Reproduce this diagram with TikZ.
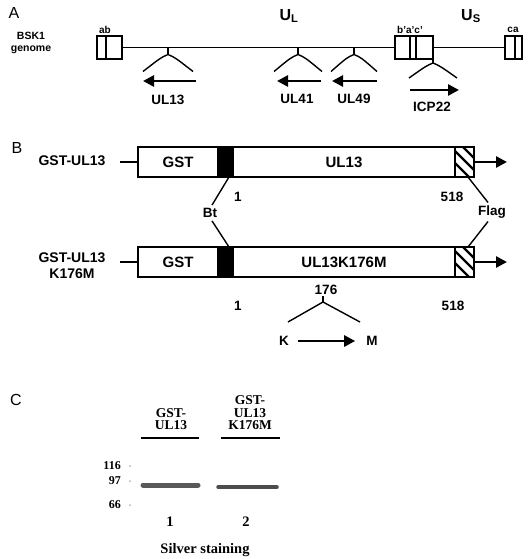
\documentclass[tikz,border=0pt]{standalone}
\usepackage{fontspec}
\setmainfont{Liberation Sans}
\newfontfamily\serifb{Liberation Serif}
\usetikzlibrary{arrows.meta}
\begin{document}
\begin{tikzpicture}[x=1pt,y=-1pt,
  panel/.style={font=\fontsize{16}{16}\selectfont, inner sep=0},
  lbl/.style={font=\fontsize{13.5}{15}\selectfont\bfseries, inner sep=0, align=center},
  tiny/.style={font=\fontsize{10}{10}\selectfont\bfseries, inner sep=0},
  boxtxt/.style={font=\fontsize{15}{15}\selectfont\bfseries},
  gbox/.style={draw, line width=1.8pt, outer sep=0, inner sep=0, anchor=north west},
  rbox/.style={draw, line width=1.6pt, outer sep=0, inner sep=0, minimum height=23, anchor=north west},
  fat/.style={line width=2.6pt, -{Triangle[length=11pt,width=11pt]}},
  brk/.style={line width=1.4pt},
  gl/.style={font=\serifb\fontsize{13.5}{12.5}\selectfont\bfseries, inner sep=0, align=center},
  mk/.style={font=\serifb\fontsize{12}{12}\selectfont\bfseries, inner sep=0, anchor=east},
  ul/.style={line width=2pt}]
\useasboundingbox (0,0) rectangle (531,559);
% ---------------- A ----------------
\node[panel] (lA) at (14,13) {A};
\node[lbl, font=\fontsize{10.5}{12}\selectfont\bfseries] (gen) at (31,43) {BSK1\\genome};
\node[rbox, minimum width=25] (ab) at (97,36) {};
\draw[line width=1.4pt] ([xshift=9]ab.north west) -- ([xshift=9]ab.south west);
\node[rbox, minimum width=38] (bac) at (395,36) {};
\draw[line width=1.4pt] ([xshift=15]bac.north west) -- ([xshift=15]bac.south west);
\draw[line width=1.4pt] ([xshift=21]bac.north west) -- ([xshift=21]bac.south west);
\node[rbox, minimum width=17] (ca) at (505,36) {};
\draw[line width=1.4pt] ([xshift=10]ca.north west) -- ([xshift=10]ca.south west);
\draw[line width=1.7pt] (ab.east) -- (bac.west);
\draw[line width=1.7pt] (bac.east) -- (ca.west);
\node[tiny] (tab) at (105,30) {ab};
\node[tiny] (tbac) at (410,30) {b'a'c'};
\node[tiny] (tca) at (513,30) {ca};
\node[lbl, font=\fontsize{16}{16}\selectfont\bfseries] (UL) at (289,16) {U$_{\mathbf L}$};
\node[lbl, font=\fontsize{16}{16}\selectfont\bfseries] (US) at (471,16) {U$_{\mathbf S}$};
% brackets
\foreach \x/\h/\n in {168/25/b1, 298/24/b2, 354/23/b3}{
  \coordinate (\n) at (\x,47.5);
  \draw[brk] (\n) -- ++(0,7) coordinate (\n s);
  \draw[brk] (\n s) .. controls ++(-7,3) .. ++(-\h,17);
  \draw[brk] (\n s) .. controls ++(7,3) .. ++(\h,17);
}
\coordinate (b4) at (433,59);
\draw[brk] (b4) -- ++(0,4) coordinate (b4s);
\draw[brk] (b4s) .. controls ++(-7,3) .. ++(-24,15);
\draw[brk] (b4s) .. controls ++(7,3) .. ++(24,15);
% gene arrows
\coordinate (a1s) at (196,81); \coordinate (a1e) at (143,81);
\coordinate (a2s) at (321,81); \coordinate (a2e) at (277,81);
\coordinate (a3s) at (377,81); \coordinate (a3e) at (332,81);
\coordinate (a4s) at (410,90); \coordinate (a4e) at (459,90);
\draw[fat] (a1s) -- (a1e);
\draw[fat] (a2s) -- (a2e);
\draw[fat] (a3s) -- (a3e);
\draw[fat] (a4s) -- (a4e);
\node[lbl] (g1) at (168,100) {UL13};
\node[lbl] (g2) at (297,99) {UL41};
\node[lbl] (g3) at (354,99) {UL49};
\node[lbl] (g4) at (432,107) {ICP22};
% ---------------- B ----------------
\node[panel] (lB) at (17,148) {B};
\node[lbl, font=\fontsize{14}{16}\selectfont\bfseries] (c1) at (72,161) {GST-UL13};
\node[gbox, minimum width=80, minimum height=30, boxtxt] (gst1) at (138,147) {GST};
\node[gbox, fill=black, minimum width=15, minimum height=30] (bt1) at (218,147) {};
\node[gbox, minimum width=222, minimum height=30, boxtxt] (ul1) at (233,147) {UL13};
\node[gbox, minimum width=19, minimum height=30] (fl1) at (455,147) {};
\begin{scope}
\clip (fl1.north west) rectangle (fl1.south east);
\foreach \d in {-16,-4,8,20}
  \draw[line width=2.4pt] ([yshift=\d]fl1.north west) -- ++(19,19);
\end{scope}
\draw[gbox] (fl1.north west) rectangle (fl1.south east);
\coordinate (d1) at (120,162);
\draw[line width=1.6pt] (d1) -- (gst1.west);
\coordinate (e1) at (507,162);
\draw[fat] (fl1.east) -- (e1);
\node[lbl] (n1a) at (238,197) {1};
\node[lbl] (n518a) at (452,197) {518};
\node[lbl] (btl) at (210,213) {Bt};
\node[lbl] (flag) at (492,212) {Flag};
\node[lbl, font=\fontsize{14}{16}\selectfont\bfseries] (c2) at (72,266) {GST-UL13\\K176M};
\node[gbox, minimum width=80, minimum height=30, boxtxt] (gst2) at (138,247) {GST};
\node[gbox, fill=black, minimum width=15, minimum height=30] (bt2) at (218,247) {};
\node[gbox, minimum width=222, minimum height=30, boxtxt] (ul2) at (233,247) {UL13K176M};
\node[gbox, minimum width=19, minimum height=30] (fl2) at (455,247) {};
\begin{scope}
\clip (fl2.north west) rectangle (fl2.south east);
\foreach \d in {-16,-4,8,20}
  \draw[line width=2.4pt] ([yshift=\d]fl2.north west) -- ++(19,19);
\end{scope}
\draw[gbox] (fl2.north west) rectangle (fl2.south east);
\coordinate (d2) at (120,262);
\draw[line width=1.6pt] (d2) -- (gst2.west);
\coordinate (e2) at (507,262);
\draw[fat] (fl2.east) -- (e2);
\draw[line width=1.4pt] ([xshift=-4]bt1.south east) -- ([shift={(2,-3)}]btl.north);
\draw[line width=1.4pt] ([shift={(2,3)}]btl.south) -- ([xshift=-4]bt2.north east);
\draw[line width=1.4pt] ([xshift=-6]fl1.south east) -- ([shift={(-4,-3)}]flag.north);
\draw[line width=1.4pt] ([shift={(-4,3)}]flag.south) -- ([xshift=-6]fl2.north east);
\node[lbl] (n176) at (326,290) {176};
\node[lbl] (n1b) at (238,306) {1};
\node[lbl] (n518b) at (453,306) {518};
\coordinate (km) at (323,296);
\draw[brk] (km) -- ++(0,6) coordinate (kms);
\coordinate (kl) at (288,322); \coordinate (kr) at (360,322);
\draw[brk] (kms) -- (kl);
\draw[brk] (kms) -- (kr);
\node[lbl] (K) at (284,341) {K};
\node[lbl] (M) at (372,341) {M};
\draw[fat] ([xshift=9]K.east) -- ([xshift=-11]M.west);
% ---------------- C ----------------
\node[panel] (lC) at (16,400) {C};
\node[gl] (l1) at (171,419) {GST-\\UL13};
\node[gl] (l2) at (250,413) {GST-\\UL13\\K176M};
\coordinate (u1a) at (141,438); \coordinate (u1b) at (199,438);
\coordinate (u2a) at (221,438); \coordinate (u2b) at (280,438);
\draw[ul] (u1a) -- (u1b);
\draw[ul] (u2a) -- (u2b);
\node[mk] (m116) at (121,466) {116};
\node[mk] (m97) at (121,481) {97};
\node[mk] (m66) at (121,505) {66};
\foreach \y in {466,481,505} \fill[gray!60] (130,\y) circle (1pt);
\coordinate (b1a) at (143,485); \coordinate (b1b) at (198,485);
\coordinate (b2a) at (218,487); \coordinate (b2b) at (277,487);
\draw[line width=5pt, gray!70!black, line cap=round] (b1a) -- (b1b);
\draw[line width=3.5pt, gray!60!black, line cap=round] (b2a) -- (b2b);
\node[gl, font=\serifb\fontsize{14.5}{14}\selectfont\bfseries] (ln1) at (170,522) {1};
\node[gl, font=\serifb\fontsize{14.5}{14}\selectfont\bfseries] (ln2) at (246,522) {2};
\node[gl, font=\serifb\fontsize{14.5}{14}\selectfont\bfseries] (ss) at (205,550) {Silver staining};
\end{tikzpicture}
\end{document}
